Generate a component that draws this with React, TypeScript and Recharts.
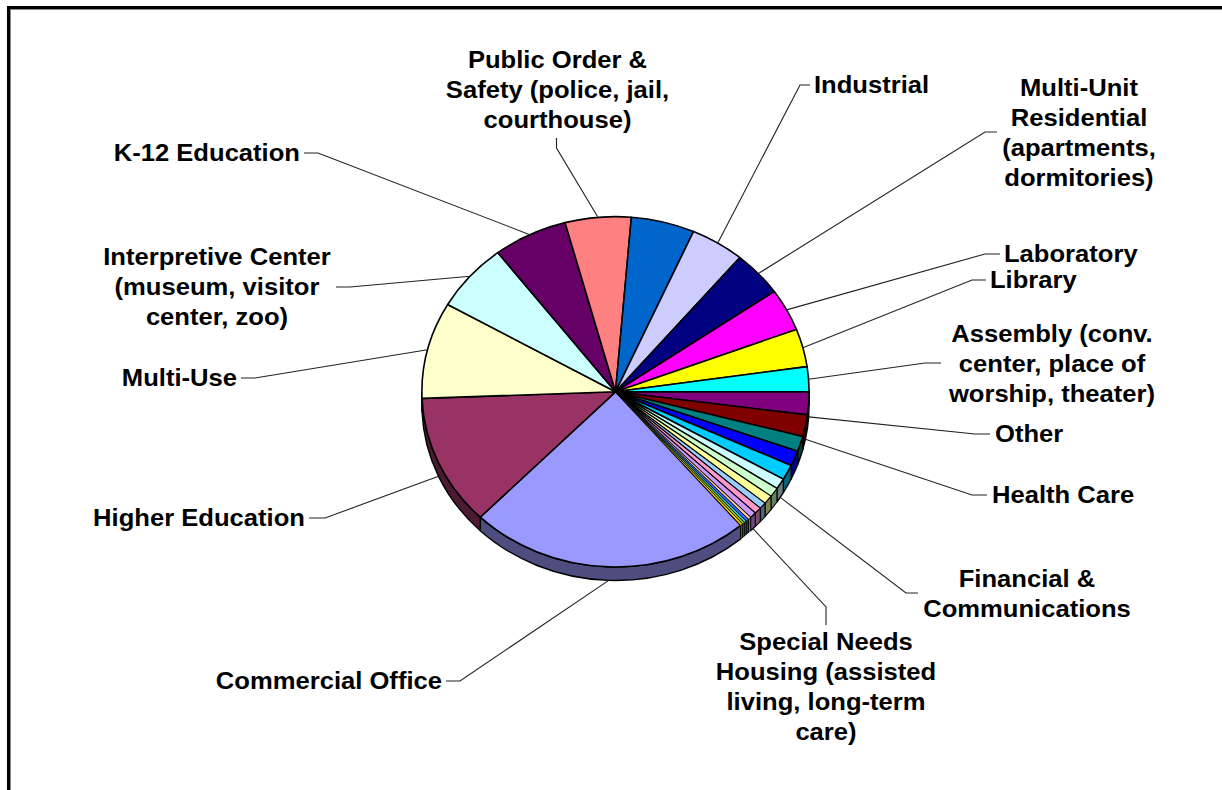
import React from 'react';
import { PieChart, Pie } from 'recharts';

// Share of projects by building type, in percent, clockwise from Commercial Office.
const sliceNames = [
  'Commercial Office', 'Higher Education', 'Multi-Use', 'Interpretive Center', 'K-12 Education',
  'Public Order & Safety', 'Retail', 'Industrial', 'Multi-Unit Residential', 'Laboratory',
  'Library', 'Assembly', 'Other', 'Health Care', 'Recreation',
  'Transportation', 'Hotel', 'Financial & Communications', 'Single Family', 'Restaurant',
  'Warehouse', 'Military', 'Special Needs Housing', 'Park', 'Stadium',
  'Parking', 'Animal Care', 'Campground',
];
const sliceValues = [
  23.5, 12.1, 8.9, 6.3, 6.2, 5.5, 5.3, 4.5, 4.2, 3.9, 3.5, 2.3, 2.1, 2.0,
  1.4, 1.4, 1.4, 1.0, 0.85, 0.8, 0.6, 0.6, 0.55, 0.25, 0.25, 0.2, 0.2, 0.2,
];
const sliceColors = [
  '#9999FF', '#993366', '#FFFFCC', '#CCFFFF', '#660066', '#FF8080', '#0066CC', '#CCCCFF',
  '#000080', '#FF00FF', '#FFFF00', '#00FFFF', '#800080', '#800000', '#008080', '#0000FF',
  '#00CCFF', '#CCFFFF', '#CCFFCC', '#FFFF99', '#99CCFF', '#FF99CC', '#CC99FF', '#FFCC99',
  '#3366FF', '#33CCCC', '#99CC00', '#FFCC00',
];

const slices = sliceNames.map((name, i) => ({ name, value: sliceValues[i], color: sliceColors[i] }));

// Callout text and where it sits; "elbow" is the short flat run of the leader.
type Callout = {
  lines: string[];
  anchor: 'start' | 'middle' | 'end';
  x: number;
  y: number;
  from: [number, number];
  elbow: [number, number];
};
const callouts: Record<string, Callout> = {
  'Commercial Office': { lines: ['Commercial Office'], anchor: 'end', x: 442, y: 681, from: [446, 681], elbow: [460, 681] },
  'Higher Education': { lines: ['Higher Education'], anchor: 'end', x: 305, y: 518, from: [309, 518], elbow: [325, 518] },
  'Multi-Use': { lines: ['Multi-Use'], anchor: 'end', x: 237, y: 378, from: [241, 378], elbow: [255, 378] },
  'Interpretive Center': { lines: ['Interpretive Center', '(museum, visitor', 'center, zoo)'], anchor: 'middle', x: 217, y: 257, from: [336, 287], elbow: [350, 287] },
  'K-12 Education': { lines: ['K-12 Education'], anchor: 'end', x: 300, y: 153, from: [304, 153], elbow: [318, 153] },
  'Public Order & Safety': { lines: ['Public Order &', 'Safety (police, jail,', 'courthouse)'], anchor: 'middle', x: 557.5, y: 60, from: [556.5, 138], elbow: [556.5, 148] },
  Industrial: { lines: ['Industrial'], anchor: 'start', x: 814, y: 85, from: [810, 85], elbow: [800, 85] },
  'Multi-Unit Residential': { lines: ['Multi-Unit', 'Residential', '(apartments,', 'dormitories)'], anchor: 'middle', x: 1079, y: 88, from: [997, 132], elbow: [985, 132] },
  Laboratory: { lines: ['Laboratory'], anchor: 'start', x: 1004, y: 254, from: [1000, 254], elbow: [985, 254] },
  Library: { lines: ['Library'], anchor: 'start', x: 990, y: 280, from: [986, 280], elbow: [972, 280] },
  Assembly: { lines: ['Assembly (conv.', 'center, place of', 'worship, theater)'], anchor: 'middle', x: 1052, y: 334, from: [941, 363], elbow: [925, 363] },
  Other: { lines: ['Other'], anchor: 'start', x: 995, y: 434, from: [990, 434], elbow: [975, 434] },
  'Health Care': { lines: ['Health Care'], anchor: 'start', x: 992, y: 495, from: [987, 495], elbow: [972, 495] },
  'Financial & Communications': { lines: ['Financial &', 'Communications'], anchor: 'middle', x: 1027, y: 579, from: [918, 593], elbow: [906, 593] },
  'Special Needs Housing': { lines: ['Special Needs', 'Housing (assisted', 'living, long-term', 'care)'], anchor: 'middle', x: 826, y: 642, from: [826, 625], elbow: [826, 607] },
};

const WIDTH = 1222;
const HEIGHT = 790;
const SQUASH = 0.905;
const DEPTH = 13.5;
const LINE_STEP = 29.9;
const FONT_SIZE = 24.5;
const TEXT_STRETCH = 1.045;

const rad = (deg: number) => (deg * Math.PI) / 180;

// Point on the tilted rim for a polar angle given in degrees.
const rimPoint = (cx: number, cy: number, r: number, deg: number) => ({
  x: cx + r * Math.cos(rad(deg)),
  y: cy - r * SQUASH * Math.sin(rad(deg)),
});

const darken = (hex: string) => {
  const n = parseInt(hex.slice(1), 16);
  const half = (v: number) => Math.round(v / 2);
  return `rgb(${half((n >> 16) & 255)},${half((n >> 8) & 255)},${half(n & 255)})`;
};

// Slivers get a finer outline so their colour still shows.
const outlineWidth = (value: number) => (value < 0.5 ? 0.8 : value < 1 ? 1.1 : 1.6);

// Top face of a slice, foreshortened into an ellipse.
const TopFace = (props: any) => {
  const { cx, cy, outerRadius: r, startAngle, endAngle, payload } = props;
  const a = rimPoint(cx, cy, r, startAngle);
  const b = rimPoint(cx, cy, r, endAngle);
  const large = Math.abs(startAngle - endAngle) > 180 ? 1 : 0;
  const d = `M${cx},${cy}L${a.x},${a.y}A${r},${r * SQUASH} 0 ${large} 1 ${b.x},${b.y}Z`;
  return (
    <path d={d} fill={payload.color} stroke="#000" strokeWidth={outlineWidth(payload.value)} strokeLinejoin="round" />
  );
};

// Visible outer wall of a slice: only the part on the near half of the pie.
const SideWall = (props: any) => {
  const { cx, cy, outerRadius: r, startAngle, endAngle, payload } = props;
  const hi = Math.max(startAngle, endAngle);
  const lo = Math.min(startAngle, endAngle);
  const turn = Math.ceil((lo + 180) / 360) * 360 - 180;
  let from = -1;
  let to = -1;
  for (const base of [turn - 360, turn, turn + 360]) {
    const f = Math.min(hi, base + 180);
    const t = Math.max(lo, base);
    if (f > t) {
      from = f;
      to = t;
    }
  }
  if (from === -1 && to === -1) return <g />;
  const a = rimPoint(cx, cy, r, from);
  const b = rimPoint(cx, cy, r, to);
  const rx = r;
  const ry = r * SQUASH;
  const d =
    `M${a.x},${a.y}A${rx},${ry} 0 0 1 ${b.x},${b.y}` +
    `L${b.x},${b.y + DEPTH}A${rx},${ry} 0 0 0 ${a.x},${a.y + DEPTH}Z`;
  return (
    <path
      d={d}
      fill={darken(payload.color)}
      stroke="#000"
      strokeWidth={Math.min(outlineWidth(payload.value), 1.4)}
      strokeLinejoin="round"
    />
  );
};

// Callout text with a leader that meets the slice at its middle angle.
const CalloutLabel = (props: any) => {
  const { cx, cy, midAngle, outerRadius: r, name } = props;
  const c = callouts[name];
  if (!c) return <g />;
  const p = rimPoint(cx, cy, r, midAngle);
  const endY = Math.sin(rad(midAngle)) < 0 ? p.y + DEPTH : p.y;
  return (
    <g>
      <polyline
        points={`${c.from[0]},${c.from[1]} ${c.elbow[0]},${c.elbow[1]} ${p.x},${endY}`}
        fill="none"
        stroke="#222"
        strokeWidth={1.1}
      />
      <g transform={`scale(${TEXT_STRETCH} 1)`}>
        <text
          textAnchor={c.anchor}
          fontFamily="'Liberation Sans', Arial, sans-serif"
          fontWeight="bold"
          fontSize={FONT_SIZE}
          fill="#000"
        >
          {c.lines.map((line, i) => (
            <tspan key={line} x={c.x / TEXT_STRETCH} y={c.y + 8.5 + i * LINE_STEP}>
              {line}
            </tspan>
          ))}
        </text>
      </g>
    </g>
  );
};

const pieGeometry = {
  cx: 615.5,
  cy: 391.8,
  outerRadius: 193.6,
  startAngle: -49.7,
  endAngle: -409.7,
  paddingAngle: 0,
  dataKey: 'value',
  nameKey: 'name',
  isAnimationActive: false,
} as const;

export default function App() {
  return (
    <div style={{ position: 'fixed', left: 0, top: 0, width: WIDTH, height: HEIGHT, overflow: 'hidden', background: '#fff' }}>
      <div
        style={{
          position: 'absolute',
          left: 7,
          top: 6,
          width: WIDTH + 100,
          height: HEIGHT + 100,
          border: '3px solid #000',
          boxShadow: 'inset 1px 1px 0 #888',
        }}
      />
      <div style={{ position: 'absolute', left: 0, top: 0 }}>
        <PieChart width={WIDTH} height={HEIGHT} margin={{ top: 0, right: 0, bottom: 0, left: 0 }}>
          <Pie {...pieGeometry} data={slices} shape={SideWall} label={false} labelLine={false} />
          <Pie {...pieGeometry} data={slices} shape={TopFace} label={CalloutLabel} labelLine={false} />
        </PieChart>
      </div>
    </div>
  );
}
